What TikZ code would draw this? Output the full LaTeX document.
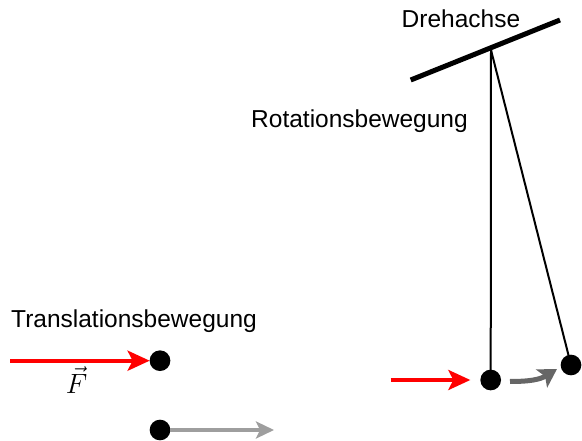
\documentclass[tikz,border=0pt]{standalone}
\usepackage{fontspec}
\setmainfont{Liberation Sans}
\usetikzlibrary{arrows.meta}
\definecolor{lgray}{HTML}{9E9E9E}
\definecolor{dgray}{HTML}{666666}
\begin{document}
\begin{tikzpicture}[x=1pt,y=-1pt,
  lbl/.style={inner sep=0pt,outer sep=0pt,anchor=base west,font=\fontsize{24.5}{28}\selectfont},
  ball/.style={circle,fill=black,draw=none,minimum size=20.7pt,inner sep=0pt,outer sep=0pt},
  rod/.style={line width=2pt,black},
  redarr/.style={line width=4pt,red,-{Stealth[length=22pt,width=20pt,inset=5pt]}},
  grayarr/.style={line width=4pt,lgray,-{Stealth[length=18pt,width=17pt,inset=4pt]}},
  curvarr/.style={line width=5pt,dgray,-{Stealth[length=18pt,width=21pt,inset=4pt]}}]
\useasboundingbox (0,0) rectangle (582,441);
% texts
\node[lbl] (dreh) at (401.7,27.5) {Drehachse};
\node[lbl] (rot) at (251.2,128) {Rotationsbewegung};
\node[lbl] (trans) at (11.2,328) {Translationsbewegung};
% axis
\coordinate (axL) at (410.7,80);
\coordinate (axR) at (560,20);
\draw[line width=5pt] (axL) -- (axR);
\coordinate (pivot) at (491,50);
% balls
\node[ball] (b1) at (160,360.7) {};
\node[ball] (b2) at (160,430) {};
\node[ball] (b3) at (490.7,380) {};
\node[ball] (b4) at (571,365) {};
% rods
\draw[rod] (pivot) -- (b3.center);
\draw[rod] (pivot) -- (b4.center);
% left red arrow with F
\coordinate (f1) at (10,360.7);
\draw[redarr] (f1) -- (b1.west);
\node[inner sep=0pt,anchor=base,font=\fontsize{24.88}{30}\selectfont,scale=1.12,transform shape] (F) at (76.5,393.5) {$\vec{F}$};
% bottom gray arrow
\coordinate (g2) at (274,430);
\draw[grayarr] (b2.east) -- (g2);
% right red arrow
\coordinate (r1) at (390.7,380);
\draw[redarr] (r1) -- ([xshift=-10pt]b3.west);
% curved gray arrow
\coordinate (c1) at (510,381.5);
\coordinate (c2) at (557,369);
\draw[curvarr] (c1) .. controls (530,381.5) and (540,379.5) .. (c2);
\end{tikzpicture}
\end{document}
